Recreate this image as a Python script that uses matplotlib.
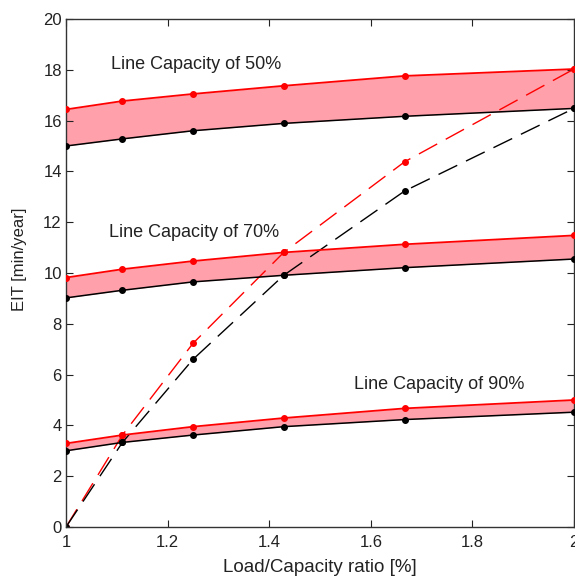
import matplotlib
matplotlib.use("Agg")
import matplotlib.pyplot as plt
import numpy as np

plt.rcParams['font.family'] = ['Liberation Sans', 'DejaVu Sans']

# Load/Capacity ratio values
x = [1.0, 1.1111, 1.25, 1.4286, 1.6667, 2.0]

# Line capacity bands: upper (red) and lower (black) EIT values
upper_50 = [16.44, 16.77, 17.05, 17.37, 17.76, 18.03]
lower_50 = [15.00, 15.28, 15.60, 15.89, 16.17, 16.48]
upper_70 = [9.82, 10.15, 10.47, 10.81, 11.13, 11.48]
lower_70 = [9.02, 9.32, 9.65, 9.91, 10.21, 10.55]
upper_90 = [3.29, 3.62, 3.95, 4.29, 4.67, 5.00]
lower_90 = [3.00, 3.33, 3.62, 3.95, 4.23, 4.52]

# Dashed curves
dashed_red = [0.0, 3.62, 7.23, 10.81, 14.38, 18.03]
dashed_black = [0.0, 3.33, 6.60, 9.91, 13.23, 16.48]

labels = ["Line Capacity of 50%", "Line Capacity of 70%", "Line Capacity of 90%"]
label_pos = [(1.088, 18.19), (1.085, 11.59), (1.566, 5.62)]

xticks = [1, 1.2, 1.4, 1.6, 1.8, 2]
xticklabels = ["1", "1.2", "1.4", "1.6", "1.8", "2"]
yticks = [0, 2, 4, 6, 8, 10, 12, 14, 16, 18, 20]

fig = plt.figure(figsize=(5.75, 5.77), dpi=100)
ax = fig.add_axes([66/575, 50/577, 508/575, 508/577])

fill_c = '#ffa0aa'
for up, lo in [(upper_50, lower_50), (upper_70, lower_70), (upper_90, lower_90)]:
    ax.fill_between(x, lo, up, color=fill_c, linewidth=0, zorder=1)
    ax.plot(x, up, color='#ff0000', lw=1.3, marker='o', ms=4, zorder=3)
    ax.plot(x, lo, color='black', lw=1.1, marker='o', ms=4, zorder=3)

ax.plot(x, dashed_red, color='#ff0000', lw=1.0, dashes=(15, 7), marker='o', ms=4, zorder=2)
ax.plot(x, dashed_black, color='black', lw=1.0, dashes=(15, 7), marker='o', ms=4, zorder=2)

for t, (tx, ty) in zip(labels, label_pos):
    ax.text(tx, ty, t, fontsize=13, va='center', ha='left', color='#222222')

ax.set_xlim(1, 2)
ax.set_ylim(0, 20)
ax.set_xticks(xticks)
ax.set_xticklabels(xticklabels)
ax.set_yticks(yticks)
ax.tick_params(direction='in', top=True, right=True, length=5, labelsize=12,
               colors='#222222')
ax.tick_params(axis='y', pad=3)
ax.tick_params(axis='x', pad=6)
for s in ax.spines.values():
    s.set_color('#333333')
    s.set_linewidth(1.0)
ax.set_xlabel("Load/Capacity ratio [%]", fontsize=13.5, color='#222222')
ax.set_ylabel("EIT [min/year]", fontsize=12, color='#222222')
# label centres (pixels): xlabel y~567, ylabel x~20, y~259
ax.xaxis.set_label_coords(0.5, -(567 - 527) / 508, transform=ax.transAxes)
ax.xaxis.label.set_va('center')
ax.yaxis.set_label_coords(-(66 - 20) / 508, (527 - 259) / 508, transform=ax.transAxes)
ax.yaxis.label.set_va('center')

fig.savefig("out.png", dpi=100)
